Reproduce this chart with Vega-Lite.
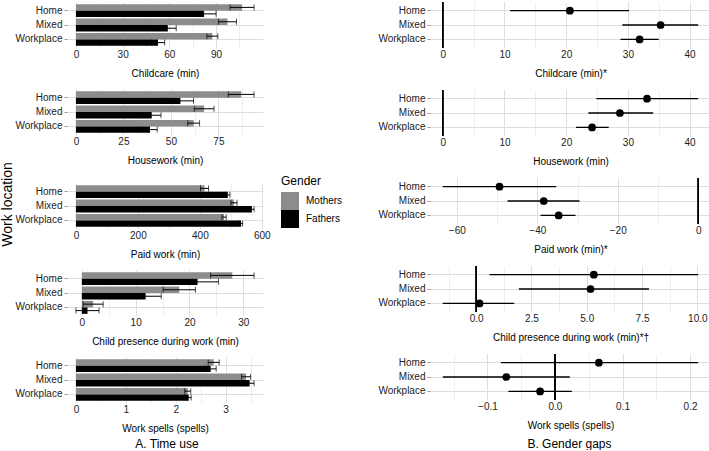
{
  "$schema": "https://vega.github.io/schema/vega-lite/v6.json",
  "padding": {"left": 0, "top": 1, "right": 0, "bottom": 0},
  "config": {
    "font": "Liberation Sans",
    "view": {"stroke": null},
    "axis": {"labelFont": "Liberation Sans", "titleFont": "Liberation Sans", "labelFontSize": 10, "titleFontSize": 10, "titleFontWeight": "normal", "labelColor": "#222222", "titleColor": "#000000", "domain": false, "gridColor": "#dedede"},
    "axisX": {"ticks": false, "labelPadding": 1, "titlePadding": 9, "labelFlush": false, "labelOverlap": false, "tickCount": 40},
    "axisY": {"tickSize": 3, "tickColor": "#999999", "labelPadding": 2, "grid": true, "bandPosition": 0.5, "gridWidth": 1},
    "title": {"font": "Liberation Sans", "fontSize": 12, "fontWeight": "normal", "color": "#000000"}
  },
  "datasets": {
    "timeuse": [
      {"outcome": "Childcare", "location": "Home", "gender": "Mothers", "mean": 106.7, "lo": 99.0, "hi": 114.4},
      {"outcome": "Childcare", "location": "Home", "gender": "Fathers", "mean": 82.3, "lo": 74.6, "hi": 90.0},
      {"outcome": "Childcare", "location": "Mixed", "gender": "Mothers", "mean": 97.3, "lo": 91.5, "hi": 103.1},
      {"outcome": "Childcare", "location": "Mixed", "gender": "Fathers", "mean": 59.0, "lo": 53.6, "hi": 64.4},
      {"outcome": "Childcare", "location": "Workplace", "gender": "Mothers", "mean": 87.6, "lo": 84.1, "hi": 91.1},
      {"outcome": "Childcare", "location": "Workplace", "gender": "Fathers", "mean": 52.7, "lo": 48.4, "hi": 57.0},
      {"outcome": "Housework", "location": "Home", "gender": "Mothers", "mean": 87.0, "lo": 80.2, "hi": 93.8},
      {"outcome": "Housework", "location": "Home", "gender": "Fathers", "mean": 55.0, "lo": 48.1, "hi": 61.9},
      {"outcome": "Housework", "location": "Mixed", "gender": "Mothers", "mean": 67.5, "lo": 62.3, "hi": 72.7},
      {"outcome": "Housework", "location": "Mixed", "gender": "Fathers", "mean": 39.9, "lo": 35.0, "hi": 44.8},
      {"outcome": "Housework", "location": "Workplace", "gender": "Mothers", "mean": 62.0, "lo": 58.9, "hi": 65.1},
      {"outcome": "Housework", "location": "Workplace", "gender": "Fathers", "mean": 39.0, "lo": 35.2, "hi": 42.8},
      {"outcome": "Paid work", "location": "Home", "gender": "Mothers", "mean": 415, "lo": 402, "hi": 428},
      {"outcome": "Paid work", "location": "Home", "gender": "Fathers", "mean": 490, "lo": 483, "hi": 497},
      {"outcome": "Paid work", "location": "Mixed", "gender": "Mothers", "mean": 510, "lo": 500, "hi": 520},
      {"outcome": "Paid work", "location": "Mixed", "gender": "Fathers", "mean": 568, "lo": 561, "hi": 575},
      {"outcome": "Paid work", "location": "Workplace", "gender": "Mothers", "mean": 478, "lo": 471, "hi": 485},
      {"outcome": "Paid work", "location": "Workplace", "gender": "Fathers", "mean": 533, "lo": 528, "hi": 538},
      {"outcome": "Child presence", "location": "Home", "gender": "Mothers", "mean": 27.95, "lo": 23.9, "hi": 32.0},
      {"outcome": "Child presence", "location": "Home", "gender": "Fathers", "mean": 21.5, "lo": 17.6, "hi": 25.4},
      {"outcome": "Child presence", "location": "Mixed", "gender": "Mothers", "mean": 18.1, "lo": 15.1, "hi": 21.1},
      {"outcome": "Child presence", "location": "Mixed", "gender": "Fathers", "mean": 11.85, "lo": 8.95, "hi": 14.75},
      {"outcome": "Child presence", "location": "Workplace", "gender": "Mothers", "mean": 2.1, "lo": 0.24, "hi": 3.96},
      {"outcome": "Child presence", "location": "Workplace", "gender": "Fathers", "mean": 1.05, "lo": -1.1, "hi": 3.2},
      {"outcome": "Work spells", "location": "Home", "gender": "Mothers", "mean": 2.76, "lo": 2.65, "hi": 2.87},
      {"outcome": "Work spells", "location": "Home", "gender": "Fathers", "mean": 2.70, "lo": 2.59, "hi": 2.81},
      {"outcome": "Work spells", "location": "Mixed", "gender": "Mothers", "mean": 3.41, "lo": 3.32, "hi": 3.50},
      {"outcome": "Work spells", "location": "Mixed", "gender": "Fathers", "mean": 3.48, "lo": 3.39, "hi": 3.57},
      {"outcome": "Work spells", "location": "Workplace", "gender": "Mothers", "mean": 2.24, "lo": 2.18, "hi": 2.30},
      {"outcome": "Work spells", "location": "Workplace", "gender": "Fathers", "mean": 2.26, "lo": 2.21, "hi": 2.31}
    ],
    "gaps": [
      {"outcome": "Childcare", "location": "Home", "est": 20.6, "lo": 10.9, "hi": 30.2},
      {"outcome": "Childcare", "location": "Mixed", "est": 35.3, "lo": 29.1, "hi": 41.4},
      {"outcome": "Childcare", "location": "Workplace", "est": 31.9, "lo": 28.8, "hi": 35.0},
      {"outcome": "Housework", "location": "Home", "est": 33.1, "lo": 24.9, "hi": 41.4},
      {"outcome": "Housework", "location": "Mixed", "est": 28.7, "lo": 23.6, "hi": 34.1},
      {"outcome": "Housework", "location": "Workplace", "est": 24.2, "lo": 21.6, "hi": 26.9},
      {"outcome": "Paid work", "location": "Home", "est": -49.4, "lo": -63.5, "hi": -35.3},
      {"outcome": "Paid work", "location": "Mixed", "est": -38.4, "lo": -47.4, "hi": -29.5},
      {"outcome": "Paid work", "location": "Workplace", "est": -34.7, "lo": -39.2, "hi": -30.5},
      {"outcome": "Child presence", "location": "Home", "est": 5.32, "lo": 0.6, "hi": 10.04},
      {"outcome": "Child presence", "location": "Mixed", "est": 5.17, "lo": 1.93, "hi": 7.81},
      {"outcome": "Child presence", "location": "Workplace", "est": 0.15, "lo": -1.51, "hi": 1.72},
      {"outcome": "Work spells", "location": "Home", "est": 0.065, "lo": -0.080, "hi": 0.212},
      {"outcome": "Work spells", "location": "Mixed", "est": -0.072, "lo": -0.166, "hi": 0.022},
      {"outcome": "Work spells", "location": "Workplace", "est": -0.022, "lo": -0.069, "hi": 0.025}
    ]
  },
  "spacing": 34,
  "hconcat": [
    {
      "title": {"text": "A. Time use", "orient": "bottom", "anchor": "middle", "frame": "bounds", "offset": 6, "dx": -5},
      "vconcat": [
        {
          "title": {"text": "Work location", "orient": "left", "anchor": "middle", "frame": "bounds", "fontSize": 14, "offset": 0, "dx": 13},
          "spacing": 11,
          "resolve": {"scale": {"color": "independent"}, "legend": {"color": "independent"}},
          "vconcat": [
            {
              "width": 196, "height": 46,
              "data": {"name": "timeuse"},
              "transform": [{"filter": "datum.outcome === 'Childcare'"}],
              "encoding": {
                "y": {"field": "location", "type": "nominal", "sort": ["Home", "Mixed", "Workplace"], "scale": {"paddingInner": 0.1, "paddingOuter": 0.15}, "axis": {"title": null}},
                "yOffset": {"field": "gender", "type": "nominal", "sort": ["Mothers", "Fathers"]}
              },
              "layer": [
                {"mark": {"type": "bar"}, "encoding": {
                  "x": {"field": "mean", "type": "quantitative", "scale": {"domain": [-5.72, 120.12], "nice": false, "zero": false},
                    "axis": {"title": "Childcare (min)", "tickCount": 40, "values": [0, 15, 30, 45, 60, 75, 90, 105], "labelExpr": "indexof([0,30,60,90], datum.value) >= 0 ? format(datum.value, 'd') : ''", "gridWidth": {"condition": {"test": "indexof([0,30,60,90], datum.value) >= 0", "value": 1}, "value": 0.5}}},
                  "x2": {"datum": 0},
                  "color": {"field": "gender", "type": "nominal", "scale": {"domain": ["Mothers", "Fathers"], "range": ["#8c8c8c", "#000000"]}, "legend": null}}},
                {"mark": {"type": "rule", "color": "black", "strokeWidth": 1}, "encoding": {"x": {"field": "lo", "type": "quantitative"}, "x2": {"field": "hi"}}},
                {"mark": {"type": "tick", "color": "black", "thickness": 1, "size": 6}, "encoding": {"x": {"field": "lo", "type": "quantitative"}}},
                {"mark": {"type": "tick", "color": "black", "thickness": 1, "size": 6}, "encoding": {"x": {"field": "hi", "type": "quantitative"}}}
              ]
            },
            {
              "width": 196, "height": 46,
              "data": {"name": "timeuse"},
              "transform": [{"filter": "datum.outcome === 'Housework'"}],
              "encoding": {
                "y": {"field": "location", "type": "nominal", "sort": ["Home", "Mixed", "Workplace"], "scale": {"paddingInner": 0.1, "paddingOuter": 0.15}, "axis": {"title": null}},
                "yOffset": {"field": "gender", "type": "nominal", "sort": ["Mothers", "Fathers"]}
              },
              "layer": [
                {"mark": {"type": "bar"}, "encoding": {
                  "x": {"field": "mean", "type": "quantitative", "scale": {"domain": [-4.69, 98.49], "nice": false, "zero": false},
                    "axis": {"title": "Housework (min)", "tickCount": 40, "values": [0, 12.5, 25, 37.5, 50, 62.5, 75, 87.5], "labelExpr": "indexof([0,25,50,75], datum.value) >= 0 ? format(datum.value, 'd') : ''", "gridWidth": {"condition": {"test": "indexof([0,25,50,75], datum.value) >= 0", "value": 1}, "value": 0.5}}},
                  "x2": {"datum": 0},
                  "color": {"field": "gender", "type": "nominal", "scale": {"domain": ["Mothers", "Fathers"], "range": ["#8c8c8c", "#000000"]}, "legend": null}}},
                {"mark": {"type": "rule", "color": "black", "strokeWidth": 1}, "encoding": {"x": {"field": "lo", "type": "quantitative"}, "x2": {"field": "hi"}}},
                {"mark": {"type": "tick", "color": "black", "thickness": 1, "size": 6}, "encoding": {"x": {"field": "lo", "type": "quantitative"}}},
                {"mark": {"type": "tick", "color": "black", "thickness": 1, "size": 6}, "encoding": {"x": {"field": "hi", "type": "quantitative"}}}
              ]
            },
            {
              "width": 196, "height": 46,
              "data": {"name": "timeuse"},
              "transform": [{"filter": "datum.outcome === 'Paid work'"}],
              "encoding": {
                "y": {"field": "location", "type": "nominal", "sort": ["Home", "Mixed", "Workplace"], "scale": {"paddingInner": 0.1, "paddingOuter": 0.15}, "axis": {"title": null}},
                "yOffset": {"field": "gender", "type": "nominal", "sort": ["Mothers", "Fathers"]}
              },
              "layer": [
                {"mark": {"type": "bar"}, "encoding": {
                  "x": {"field": "mean", "type": "quantitative", "scale": {"domain": [-28.75, 603.75], "nice": false, "zero": false},
                    "axis": {"title": "Paid work (min)", "tickCount": 40, "values": [0, 100, 200, 300, 400, 500, 600], "labelExpr": "indexof([0,200,400,600], datum.value) >= 0 ? format(datum.value, 'd') : ''", "gridWidth": {"condition": {"test": "indexof([0,200,400,600], datum.value) >= 0", "value": 1}, "value": 0.5}}},
                  "x2": {"datum": 0},
                  "color": {"field": "gender", "type": "nominal", "scale": {"domain": ["Mothers", "Fathers"], "range": ["#8c8c8c", "#000000"]},
                    "legend": {"title": "Gender", "orient": "none", "legendX": 214, "legendY": -7, "titleFontSize": 12, "titleFontWeight": "normal", "titleFont": "Liberation Sans", "titleColor": "#000000", "labelFont": "Liberation Sans", "labelFontSize": 10, "labelColor": "#000000", "symbolType": "square", "symbolSize": 324, "symbolStrokeWidth": 0, "symbolOpacity": 1, "rowPadding": 0, "labelOffset": 7, "padding": 0, "titlePadding": 4}}}},
                {"mark": {"type": "rule", "color": "black", "strokeWidth": 1}, "encoding": {"x": {"field": "lo", "type": "quantitative"}, "x2": {"field": "hi"}}},
                {"mark": {"type": "tick", "color": "black", "thickness": 1, "size": 6}, "encoding": {"x": {"field": "lo", "type": "quantitative"}}},
                {"mark": {"type": "tick", "color": "black", "thickness": 1, "size": 6}, "encoding": {"x": {"field": "hi", "type": "quantitative"}}}
              ]
            },
            {
              "width": 196, "height": 46,
              "data": {"name": "timeuse"},
              "transform": [{"filter": "datum.outcome === 'Child presence'"}],
              "encoding": {
                "y": {"field": "location", "type": "nominal", "sort": ["Home", "Mixed", "Workplace"], "scale": {"paddingInner": 0.1, "paddingOuter": 0.15}, "axis": {"title": null}},
                "yOffset": {"field": "gender", "type": "nominal", "sort": ["Mothers", "Fathers"]}
              },
              "layer": [
                {"mark": {"type": "bar"}, "encoding": {
                  "x": {"field": "mean", "type": "quantitative", "scale": {"domain": [-2.755, 33.655], "nice": false, "zero": false},
                    "axis": {"title": "Child presence during work (min)", "tickCount": 40, "values": [0, 5, 10, 15, 20, 25, 30], "labelExpr": "indexof([0,10,20,30], datum.value) >= 0 ? format(datum.value, 'd') : ''", "gridWidth": {"condition": {"test": "indexof([0,10,20,30], datum.value) >= 0", "value": 1}, "value": 0.5}}},
                  "x2": {"datum": 0},
                  "color": {"field": "gender", "type": "nominal", "scale": {"domain": ["Mothers", "Fathers"], "range": ["#8c8c8c", "#000000"]}, "legend": null}}},
                {"mark": {"type": "rule", "color": "black", "strokeWidth": 1}, "encoding": {"x": {"field": "lo", "type": "quantitative"}, "x2": {"field": "hi"}}},
                {"mark": {"type": "tick", "color": "black", "thickness": 1, "size": 6}, "encoding": {"x": {"field": "lo", "type": "quantitative"}}},
                {"mark": {"type": "tick", "color": "black", "thickness": 1, "size": 6}, "encoding": {"x": {"field": "hi", "type": "quantitative"}}}
              ]
            },
            {
              "width": 196, "height": 46,
              "data": {"name": "timeuse"},
              "transform": [{"filter": "datum.outcome === 'Work spells'"}],
              "encoding": {
                "y": {"field": "location", "type": "nominal", "sort": ["Home", "Mixed", "Workplace"], "scale": {"paddingInner": 0.1, "paddingOuter": 0.15}, "axis": {"title": null}},
                "yOffset": {"field": "gender", "type": "nominal", "sort": ["Mothers", "Fathers"]}
              },
              "layer": [
                {"mark": {"type": "bar"}, "encoding": {
                  "x": {"field": "mean", "type": "quantitative", "scale": {"domain": [-0.1785, 3.7485], "nice": false, "zero": false},
                    "axis": {"title": "Work spells (spells)", "tickCount": 40, "values": [0, 0.5, 1, 1.5, 2, 2.5, 3, 3.5], "labelExpr": "indexof([0,1,2,3], datum.value) >= 0 ? format(datum.value, 'd') : ''", "gridWidth": {"condition": {"test": "indexof([0,1,2,3], datum.value) >= 0", "value": 1}, "value": 0.5}}},
                  "x2": {"datum": 0},
                  "color": {"field": "gender", "type": "nominal", "scale": {"domain": ["Mothers", "Fathers"], "range": ["#8c8c8c", "#000000"]}, "legend": null}}},
                {"mark": {"type": "rule", "color": "black", "strokeWidth": 1}, "encoding": {"x": {"field": "lo", "type": "quantitative"}, "x2": {"field": "hi"}}},
                {"mark": {"type": "tick", "color": "black", "thickness": 1, "size": 6}, "encoding": {"x": {"field": "lo", "type": "quantitative"}}},
                {"mark": {"type": "tick", "color": "black", "thickness": 1, "size": 6}, "encoding": {"x": {"field": "hi", "type": "quantitative"}}}
              ]
            }
          ]
        }
      ]
    },
    {
      "title": {"text": "B. Gender gaps", "orient": "bottom", "anchor": "middle", "frame": "bounds", "offset": 9, "dx": 25},
      "spacing": 11,
      "vconcat": [
        {
          "width": 281, "height": 46,
          "data": {"name": "gaps"},
          "transform": [{"filter": "datum.outcome === 'Childcare'"}],
          "layer": [
            {"mark": {"type": "rule", "color": "black", "strokeWidth": 1.4}, "encoding": {
              "y": {"field": "location", "type": "nominal", "sort": ["Home", "Mixed", "Workplace"], "scale": {"paddingInner": 0.1, "paddingOuter": 0.15}, "axis": {"title": null}},
              "x": {"field": "lo", "type": "quantitative", "scale": {"domain": [-2.07, 43.47], "nice": false, "zero": false},
                "axis": {"title": "Childcare (min)*", "tickCount": 40, "values": [0, 5, 10, 15, 20, 25, 30, 35, 40], "labelExpr": "indexof([0,10,20,30,40], datum.value) >= 0 ? datum.label : ''", "gridWidth": {"condition": {"test": "indexof([0,10,20,30,40], datum.value) >= 0", "value": 1}, "value": 0.5}}},
              "x2": {"field": "hi"}}},
            {"mark": {"type": "point", "filled": true, "color": "black", "opacity": 1, "size": 60}, "encoding": {
              "y": {"field": "location", "type": "nominal", "sort": ["Home", "Mixed", "Workplace"]},
              "x": {"field": "est", "type": "quantitative"}}},
            {"mark": {"type": "rule", "color": "black", "strokeWidth": 1.4}, "encoding": {"x": {"datum": 0}}}
          ]
        },
        {
          "width": 281, "height": 46,
          "data": {"name": "gaps"},
          "transform": [{"filter": "datum.outcome === 'Housework'"}],
          "layer": [
            {"mark": {"type": "rule", "color": "black", "strokeWidth": 1.4}, "encoding": {
              "y": {"field": "location", "type": "nominal", "sort": ["Home", "Mixed", "Workplace"], "scale": {"paddingInner": 0.1, "paddingOuter": 0.15}, "axis": {"title": null}},
              "x": {"field": "lo", "type": "quantitative", "scale": {"domain": [-2.07, 43.47], "nice": false, "zero": false},
                "axis": {"title": "Housework (min)", "tickCount": 40, "values": [0, 5, 10, 15, 20, 25, 30, 35, 40], "labelExpr": "indexof([0,10,20,30,40], datum.value) >= 0 ? datum.label : ''", "gridWidth": {"condition": {"test": "indexof([0,10,20,30,40], datum.value) >= 0", "value": 1}, "value": 0.5}}},
              "x2": {"field": "hi"}}},
            {"mark": {"type": "point", "filled": true, "color": "black", "opacity": 1, "size": 60}, "encoding": {
              "y": {"field": "location", "type": "nominal", "sort": ["Home", "Mixed", "Workplace"]},
              "x": {"field": "est", "type": "quantitative"}}},
            {"mark": {"type": "rule", "color": "black", "strokeWidth": 1.4}, "encoding": {"x": {"datum": 0}}}
          ]
        },
        {
          "width": 281, "height": 46,
          "data": {"name": "gaps"},
          "transform": [{"filter": "datum.outcome === 'Paid work'"}],
          "layer": [
            {"mark": {"type": "rule", "color": "black", "strokeWidth": 1.4}, "encoding": {
              "y": {"field": "location", "type": "nominal", "sort": ["Home", "Mixed", "Workplace"], "scale": {"paddingInner": 0.1, "paddingOuter": 0.15}, "axis": {"title": null}},
              "x": {"field": "lo", "type": "quantitative", "scale": {"domain": [-66.675, 3.175], "nice": false, "zero": false},
                "axis": {"title": "Paid work (min)*", "tickCount": 40, "values": [-60, -50, -40, -30, -20, -10, 0], "labelExpr": "indexof([-60,-40,-20,0], datum.value) >= 0 ? datum.label : ''", "gridWidth": {"condition": {"test": "indexof([-60,-40,-20,0], datum.value) >= 0", "value": 1}, "value": 0.5}}},
              "x2": {"field": "hi"}}},
            {"mark": {"type": "point", "filled": true, "color": "black", "opacity": 1, "size": 60}, "encoding": {
              "y": {"field": "location", "type": "nominal", "sort": ["Home", "Mixed", "Workplace"]},
              "x": {"field": "est", "type": "quantitative"}}},
            {"mark": {"type": "rule", "color": "black", "strokeWidth": 1.4}, "encoding": {"x": {"datum": 0}}}
          ]
        },
        {
          "width": 281, "height": 46,
          "data": {"name": "gaps"},
          "transform": [{"filter": "datum.outcome === 'Child presence'"}],
          "layer": [
            {"mark": {"type": "rule", "color": "black", "strokeWidth": 1.4}, "encoding": {
              "y": {"field": "location", "type": "nominal", "sort": ["Home", "Mixed", "Workplace"], "scale": {"paddingInner": 0.1, "paddingOuter": 0.15}, "axis": {"title": null}},
              "x": {"field": "lo", "type": "quantitative", "scale": {"domain": [-2.088, 10.618], "nice": false, "zero": false},
                "axis": {"title": "Child presence during work (min)*†", "tickCount": 40, "values": [-1.25, 0, 1.25, 2.5, 3.75, 5, 6.25, 7.5, 8.75, 10], "labelExpr": "indexof([0,2.5,5,7.5,10], datum.value) >= 0 ? format(datum.value, '.1f') : ''", "gridWidth": {"condition": {"test": "indexof([0,2.5,5,7.5,10], datum.value) >= 0", "value": 1}, "value": 0.5}}},
              "x2": {"field": "hi"}}},
            {"mark": {"type": "point", "filled": true, "color": "black", "opacity": 1, "size": 60}, "encoding": {
              "y": {"field": "location", "type": "nominal", "sort": ["Home", "Mixed", "Workplace"]},
              "x": {"field": "est", "type": "quantitative"}}},
            {"mark": {"type": "rule", "color": "black", "strokeWidth": 1.4}, "encoding": {"x": {"datum": 0}}}
          ]
        },
        {
          "width": 281, "height": 46,
          "data": {"name": "gaps"},
          "transform": [{"filter": "datum.outcome === 'Work spells'"}],
          "layer": [
            {"mark": {"type": "rule", "color": "black", "strokeWidth": 1.4}, "encoding": {
              "y": {"field": "location", "type": "nominal", "sort": ["Home", "Mixed", "Workplace"], "scale": {"paddingInner": 0.1, "paddingOuter": 0.15}, "axis": {"title": null}},
              "x": {"field": "lo", "type": "quantitative", "scale": {"domain": [-0.185, 0.231], "nice": false, "zero": false},
                "axis": {"title": "Work spells (spells)", "tickCount": 40, "values": [-0.15, -0.1, -0.05, 0, 0.05, 0.1, 0.15, 0.2], "labelExpr": "indexof([-0.1,0,0.1,0.2], datum.value) >= 0 ? format(datum.value, '.1f') : ''", "gridWidth": {"condition": {"test": "indexof([-0.1,0,0.1,0.2], datum.value) >= 0", "value": 1}, "value": 0.5}}},
              "x2": {"field": "hi"}}},
            {"mark": {"type": "point", "filled": true, "color": "black", "opacity": 1, "size": 60}, "encoding": {
              "y": {"field": "location", "type": "nominal", "sort": ["Home", "Mixed", "Workplace"]},
              "x": {"field": "est", "type": "quantitative"}}},
            {"mark": {"type": "rule", "color": "black", "strokeWidth": 1.4}, "encoding": {"x": {"datum": 0}}}
          ]
        }
      ]
    }
  ]
}
